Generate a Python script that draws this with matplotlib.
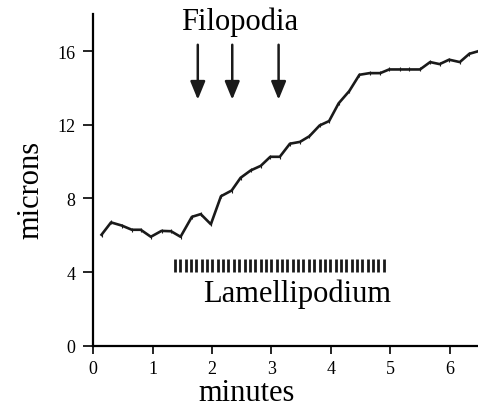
import matplotlib
matplotlib.use('Agg')
import matplotlib.pyplot as plt
import numpy as np

plt.rcParams['font.family'] = ['Liberation Serif', 'DejaVu Serif']

# time (minutes) and position (microns)
minutes = [0.14, 0.30, 0.48, 0.65, 0.80, 0.97, 1.15, 1.31, 1.47, 1.66,
           1.81, 1.98, 2.15, 2.33, 2.48, 2.65, 2.82, 2.98, 3.14, 3.31,
           3.48, 3.64, 3.81, 3.97, 4.13, 4.31, 4.48, 4.65, 4.83, 4.98,
           5.16, 5.32, 5.50, 5.67, 5.83, 5.99, 6.17, 6.33, 6.47]
microns = [6.03, 6.70, 6.53, 6.30, 6.30, 5.92, 6.24, 6.22, 5.92, 7.00,
           7.15, 6.60, 8.12, 8.43, 9.12, 9.52, 9.77, 10.26, 10.26, 10.97,
           11.07, 11.38, 11.96, 12.20, 13.16, 13.83, 14.71, 14.80, 14.80, 15.00,
           15.00, 15.00, 15.00, 15.40, 15.29, 15.53, 15.40, 15.85, 15.98]

# filopodia events (arrows) and lamellipodium period
filopodia_t = [1.76, 2.34, 3.12]
lamelli_start, lamelli_end, lamelli_n = 1.375, 4.89, 40

xticks = [0, 1, 2, 3, 4, 5, 6]
yticks = [0, 4, 8, 12, 16]

fig = plt.figure(figsize=(4.78, 4.10), dpi=100)
ax = fig.add_axes([0.195, 0.154, 0.808, 0.809])

ax.plot(minutes, microns, color='#1a1a1a', lw=1.9, marker='|', ms=3, mew=0.8)

# filopodia arrows
for t in filopodia_t:
    ax.annotate('', xy=(t, 13.36), xytext=(t, 16.34),
                arrowprops=dict(arrowstyle='-|>,head_length=1.1,head_width=0.45',
                                lw=1.8, color='#1a1a1a', mutation_scale=10,
                                shrinkA=0, shrinkB=0))
ax.text(2.47, 17.6, 'Filopodia', fontsize=22, ha='center', va='center')

# lamellipodium hatch bar
bars = np.linspace(lamelli_start, lamelli_end, lamelli_n)
ax.vlines(bars, 4.0, 4.72, color='#1a1a1a', lw=2.0)
ax.text(3.44, 2.88, 'Lamellipodium', fontsize=22, ha='center', va='center')

ax.set_xlim(0, 6.5)
ax.set_ylim(0, 18)
ax.set_xticks(xticks)
ax.set_yticks(yticks)
ax.tick_params(labelsize=13, width=1.2)
ax.tick_params(axis='x', length=6, pad=4)
ax.tick_params(axis='y', length=7, pad=6)
ax.spines['top'].set_visible(False)
ax.spines['right'].set_visible(False)
for s in ['left', 'bottom']:
    ax.spines[s].set_linewidth(1.6)

ax.set_xlabel('minutes', fontsize=22)
ax.xaxis.set_label_coords(0.397, -0.142)
ax.xaxis.label.set_va('center')
ax.set_ylabel('microns', fontsize=22)
ax.yaxis.set_label_coords(-0.161, 0.473)
ax.yaxis.label.set_va('center')

fig.savefig('out.png', dpi=100)
